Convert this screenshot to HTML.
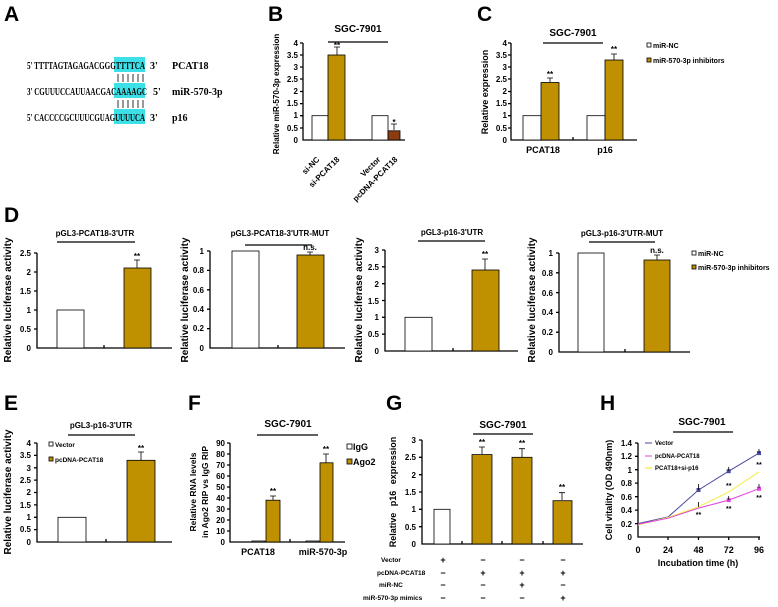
<!DOCTYPE html>
<html><head><meta charset="utf-8"><style>
body{margin:0;background:#fff}
svg{display:block;font-family:"Liberation Sans",Arial,sans-serif;font-weight:bold}
.L{font-size:21px}
.t{font-size:8px;text-anchor:end}
.ti{font-size:9px;text-anchor:middle}
.s{font-family:"Liberation Serif",serif;font-size:10px}
.ax{stroke:#000;stroke-width:1.3;fill:none}
.w{fill:#fff;stroke:#000;stroke-width:0.8}
.g{fill:#bf9000;stroke:#000;stroke-width:0.8}
.e{stroke:#000;stroke-width:0.8;fill:none}
.yl{font-size:8.5px;text-anchor:middle}
.st{font-size:8px;text-anchor:middle}
</style></head><body>
<svg width="778" height="607" viewBox="0 0 778 607">
<text class="L" x="4" y="21">A</text>
<text class="L" x="268" y="21">B</text>
<text class="L" x="477" y="21">C</text>
<text class="L" x="4" y="222">D</text>
<text class="L" x="4" y="410">E</text>
<text class="L" x="188" y="410">F</text>
<text class="L" x="386" y="410">G</text>
<text class="L" x="600" y="410">H</text>

<!-- Panel A -->
<rect x="114" y="57" width="31" height="15" fill="#3ee0e8"/>
<rect x="114" y="83" width="31" height="15" fill="#3ee0e8"/>
<rect x="114" y="109" width="31" height="15" fill="#3ee0e8"/>
<g class="e"><path d="M118 74V82M123 74V82M128 74V82M133 74V82M138 74V82M143 74V82M118 100V108M123 100V108M128 100V108M133 100V108M138 100V108M143 100V108"/></g>
<text class="s" x="27" y="69" textLength="118" lengthAdjust="spacingAndGlyphs">5' TTTTAGTAGAGACGGGTTTTCA</text>
<text class="s" x="150" y="69">3'</text><text class="s" x="172" y="69">PCAT18</text>
<text class="s" x="27" y="95" textLength="120" lengthAdjust="spacingAndGlyphs">3' CGUUUCCAUUAACGACAAAAGC</text>
<text class="s" x="153" y="95">5'</text><text class="s" x="172" y="95">miR-570-3p</text>
<text class="s" x="27" y="121" textLength="118" lengthAdjust="spacingAndGlyphs">5' CACCCCGCUUUCGUAGUUUUCA</text>
<text class="s" x="150" y="121">3'</text><text class="s" x="172" y="121">p16</text>

<!-- Panel B -->
<text class="ti" x="358" y="32" style="font-size:10px">SGC-7901</text>
<path class="ax" d="M328 42H388"/>
<path class="ax" d="M303 43V140H405M300 43H303M300 55H303M300 67H303M300 79H303M300 91.5H303M300 103.6H303M300 115.7H303M300 128H303"/>
<g class="t"><text x="298" y="46">4</text><text x="298" y="58">3.5</text><text x="298" y="70">3</text><text x="298" y="82">2.5</text><text x="298" y="94">2</text><text x="298" y="106">1.5</text><text x="298" y="118">1</text><text x="298" y="131">0.5</text><text x="298" y="143">0</text></g>
<text class="yl" transform="translate(279,94) rotate(-90)" style="font-size:8px">Relative miR-570-3p expression</text>
<rect class="w" x="312" y="115.7" width="16" height="24.3"/>
<rect class="g" x="328" y="55" width="17" height="85"/>
<rect class="w" x="372" y="115.7" width="16" height="24.3"/>
<rect x="388" y="130.8" width="12" height="9.2" fill="#8b3c12" stroke="#000" stroke-width="0.8"/>
<path class="e" d="M337 55V47M334 47H340M394 130V124M391 124H397"/>
<text class="st" x="337" y="48">**</text><text class="st" x="394" y="125">*</text>
<g style="font-size:8px"><text transform="translate(320,160) rotate(-45)" text-anchor="end">si-NC</text>
<text transform="translate(340,160) rotate(-45)" text-anchor="end">si-PCAT18</text>
<text transform="translate(381,160) rotate(-45)" text-anchor="end">Vector</text>
<text transform="translate(398,160) rotate(-45)" text-anchor="end">pcDNA-PCAT18</text></g>

<!-- Panel C -->
<text class="ti" x="573" y="36" style="font-size:10px">SGC-7901</text>
<path class="ax" d="M543 43H603"/>
<path class="ax" d="M511 43V140H637M508 43H511M508 55H511M508 67H511M508 79H511M508 91.5H511M508 103.6H511M508 115.7H511M508 128H511M573 140V137"/>
<g class="t"><text x="507" y="46">4</text><text x="507" y="58">3.5</text><text x="507" y="70">3</text><text x="507" y="82">2.5</text><text x="507" y="94">2</text><text x="507" y="106">1.5</text><text x="507" y="118">1</text><text x="507" y="131">0.5</text><text x="507" y="143">0</text></g>
<text class="yl" transform="translate(488,92) rotate(-90)" style="font-size:9px">Relative expression</text>
<rect class="w" x="523" y="115.7" width="18" height="24.3"/>
<rect class="g" x="541" y="82.5" width="18" height="57.5"/>
<rect class="w" x="587" y="115.7" width="18" height="24.3"/>
<rect class="g" x="605" y="60" width="18" height="80"/>
<path class="e" d="M550 82V78M547 78H553M614 60V54M611 54H617"/>
<text class="st" x="550" y="77">**</text><text class="st" x="614" y="52">**</text>
<text class="ti" x="543" y="153">PCAT18</text><text class="ti" x="605" y="153">p16</text>
<rect class="w" x="647" y="43" width="4" height="4"/><text x="653" y="48" style="font-size:7px">miR-NC</text>
<rect class="g" x="647" y="58" width="4" height="4"/><text x="653" y="63" style="font-size:7px">miR-570-3p inhibitors</text>

<!-- D1 -->
<text class="ti" x="95" y="236" style="font-size:8px">pGL3-PCAT18-3'UTR</text>
<path class="ax" d="M57 242H135"/>
<path class="ax" d="M37 253V348H172M34 253H37M34 272H37M34 291H37M34 310H37M34 329H37M104 348V345"/>
<g class="t"><text x="31" y="256">2.5</text><text x="31" y="275">2</text><text x="31" y="294">1.5</text><text x="31" y="313">1</text><text x="31" y="332">0.5</text><text x="31" y="351">0</text></g>
<text class="yl" transform="translate(11,300) rotate(-90)" style="font-size:10px">Relative luciferase activity</text>
<rect class="w" x="57" y="310" width="27" height="38"/>
<rect class="g" x="124" y="268" width="27" height="80"/>
<path class="e" d="M137 268V260M134 260H140"/><text class="st" x="137" y="259">**</text>

<!-- D2 -->
<text class="ti" x="280" y="236" style="font-size:8px">pGL3-PCAT18-3'UTR-MUT</text>
<path class="ax" d="M245 245H312"/>
<path class="ax" d="M210 251V348H345M207 251H210M207 270.4H210M207 289.8H210M207 309.2H210M207 328.6H210M278 348V345"/>
<g class="t"><text x="204" y="254">1</text><text x="204" y="273">0.8</text><text x="204" y="293">0.6</text><text x="204" y="312">0.4</text><text x="204" y="331">0.2</text><text x="204" y="351">0</text></g>
<text class="yl" transform="translate(188,300) rotate(-90)" style="font-size:10px">Relative luciferase activity</text>
<rect class="w" x="232" y="251" width="27" height="97"/>
<rect class="g" x="297" y="255" width="27" height="93"/>
<path class="e" d="M310 255V252M307 252H313"/><text class="st" x="310" y="250">n.s.</text>

<!-- D3 -->
<text class="ti" x="452" y="235" style="font-size:8px">pGL3-p16-3'UTR</text>
<path class="ax" d="M418 241H485"/>
<path class="ax" d="M385 250V351H518M382 250H385M382 266.8H385M382 283.7H385M382 300.5H385M382 317.3H385M382 334.2H385M453 351V348"/>
<g class="t"><text x="379" y="253">3</text><text x="379" y="270">2.5</text><text x="379" y="287">2</text><text x="379" y="304">1.5</text><text x="379" y="320">1</text><text x="379" y="337">0.5</text><text x="379" y="354">0</text></g>
<text class="yl" transform="translate(362,300) rotate(-90)" style="font-size:10px">Relative luciferase activity</text>
<rect class="w" x="405" y="317.3" width="27" height="33.7"/>
<rect class="g" x="472" y="270" width="27" height="81"/>
<path class="e" d="M485 270V259M482 259H488"/><text class="st" x="485" y="257">**</text>

<!-- D4 -->
<text class="ti" x="622" y="236" style="font-size:8px">pGL3-p16-3'UTR-MUT</text>
<path class="ax" d="M589 242H655"/>
<path class="ax" d="M559 253V352H690M556 253H559M556 272.8H559M556 292.6H559M556 312.4H559M556 332.2H559M625 352V349"/>
<g class="t"><text x="553" y="256">1</text><text x="553" y="276">0.8</text><text x="553" y="296">0.6</text><text x="553" y="315">0.4</text><text x="553" y="335">0.2</text><text x="553" y="355">0</text></g>
<text class="yl" transform="translate(535,300) rotate(-90)" style="font-size:10px">Relative luciferase activity</text>
<rect class="w" x="578" y="253" width="26" height="99"/>
<rect class="g" x="644" y="260" width="26" height="92"/>
<path class="e" d="M657 260V255M654 255H660"/><text class="st" x="657" y="253">n.s.</text>
<rect class="w" x="692" y="251" width="4" height="4"/><text x="698" y="256" style="font-size:7px">miR-NC</text>
<rect class="g" x="692" y="265" width="4" height="4"/><text x="698" y="270" style="font-size:7px">miR-570-3p inhibitors</text>

<!-- E -->
<text class="ti" x="101" y="428" style="font-size:8px">pGL3-p16-3'UTR</text>
<path class="ax" d="M68 435H135"/>
<path class="ax" d="M37 443V542H172M34 443H37M34 455.4H37M34 467.8H37M34 480.1H37M34 492.5H37M34 504.9H37M34 517.3H37M34 529.6H37M106 542V539"/>
<g class="t"><text x="31" y="446">4</text><text x="31" y="458">3.5</text><text x="31" y="471">3</text><text x="31" y="483">2.5</text><text x="31" y="495">2</text><text x="31" y="508">1.5</text><text x="31" y="520">1</text><text x="31" y="532">0.5</text><text x="31" y="545">0</text></g>
<text class="yl" transform="translate(11,492) rotate(-90)" style="font-size:10px">Relative luciferase activity</text>
<rect class="w" x="58" y="517.3" width="28" height="24.7"/>
<rect class="g" x="127" y="460.3" width="28" height="81.7"/>
<path class="e" d="M141 460V452M138 452H144"/><text class="st" x="141" y="451">**</text>
<rect class="w" x="49" y="442" width="4" height="4"/><text x="55" y="447" style="font-size:6.5px">Vector</text>
<rect class="g" x="49" y="457" width="4" height="4"/><text x="55" y="462" style="font-size:6.5px">pcDNA-PCAT18</text>

<!-- F -->
<text class="ti" x="288" y="427" style="font-size:10px">SGC-7901</text>
<path class="ax" d="M257 435H318"/>
<path class="ax" d="M230 443V542H345M227 443H230M227 454H230M227 465H230M227 476H230M227 487H230M227 498H230M227 509H230M227 520H230M227 531H230M290 542V539"/>
<g class="t"><text x="225" y="446">90</text><text x="225" y="457">80</text><text x="225" y="468">70</text><text x="225" y="479">60</text><text x="225" y="490">50</text><text x="225" y="501">40</text><text x="225" y="512">30</text><text x="225" y="523">20</text><text x="225" y="534">10</text><text x="225" y="545">0</text></g>
<text class="yl" transform="translate(196,492) rotate(-90)">Relative RNA levels</text>
<text class="yl" transform="translate(208,492) rotate(-90)">in Ago2 RIP vs IgG RIP</text>
<rect class="w" x="252" y="541" width="13" height="1"/>
<rect class="g" x="266" y="500.2" width="14" height="41.8"/>
<rect class="w" x="306" y="541" width="13" height="1"/>
<rect class="g" x="320" y="462.8" width="13" height="79.2"/>
<path class="e" d="M273 500V496M270 496H276M326 463V454M323 454H329"/>
<text class="st" x="273" y="494">**</text><text class="st" x="326" y="452">**</text>
<text class="ti" x="258" y="555">PCAT18</text><text class="ti" x="323" y="555">miR-570-3p</text>
<rect class="w" x="347" y="444" width="5" height="5"/><text x="353" y="450" style="font-size:9px">IgG</text>
<rect class="g" x="347" y="459" width="5" height="5"/><text x="353" y="465" style="font-size:9px">Ago2</text>

<!-- G -->
<text class="ti" x="503" y="428" style="font-size:10px">SGC-7901</text>
<path class="ax" d="M473 434H533"/>
<path class="ax" d="M422 440V544H583M419 440H422M419 457.3H422M419 474.7H422M419 492H422M419 509.3H422M419 526.7H422M462 544V541M502 544V541M543 544V541"/>
<g class="t"><text x="416" y="443">3</text><text x="416" y="460">2.5</text><text x="416" y="478">2</text><text x="416" y="495">1.5</text><text x="416" y="512">1</text><text x="416" y="530">0.5</text><text x="416" y="547">0</text></g>
<text class="yl" transform="translate(396,492) rotate(-90)" style="font-size:9px;word-spacing:4px">Relative p16 expression</text>
<rect class="w" x="434" y="509.3" width="16" height="34.7"/>
<rect class="g" x="472" y="454.6" width="20" height="89.4"/>
<rect class="g" x="512" y="457.3" width="20" height="86.7"/>
<rect class="g" x="553" y="500.7" width="19" height="43.3"/>
<path class="e" d="M482 454V447M479 447H485M522 457V448.7M519 448.7H525M562 500V492.7M559 492.7H565"/>
<text class="st" x="482" y="445">**</text><text class="st" x="522" y="446">**</text><text class="st" x="562" y="490">**</text>
<g style="font-size:6.5px"><text x="381" y="562">Vector</text><text x="377" y="575">pcDNA-PCAT18</text><text x="379" y="587">miR-NC</text><text x="363" y="600">miR-570-3p mimics</text></g>
<g style="font-size:9px" text-anchor="middle"><text x="443" y="563">+</text><text x="483" y="563">−</text><text x="522" y="563">−</text><text x="563" y="563">−</text>
<text x="443" y="576">−</text><text x="483" y="576">+</text><text x="522" y="576">+</text><text x="563" y="576">+</text>
<text x="443" y="588">−</text><text x="483" y="588">−</text><text x="522" y="588">+</text><text x="563" y="588">−</text>
<text x="443" y="601">−</text><text x="483" y="601">−</text><text x="522" y="601">−</text><text x="563" y="601">+</text></g>

<!-- H -->
<text class="ti" x="702" y="425" style="font-size:10px">SGC-7901</text>
<path class="ax" d="M673 432H733"/>
<path class="ax" d="M638 443V537H760M635 443H638M635 456.3H638M635 469.7H638M635 483.1H638M635 496.7H638M635 510.1H638M635 523.6H638M668 537V540M698.5 537V540M728.7 537V540M759 537V540"/>
<g class="t"><text x="632" y="446">1.4</text><text x="632" y="459">1.2</text><text x="632" y="473">1</text><text x="632" y="486">0.8</text><text x="632" y="500">0.6</text><text x="632" y="513">0.4</text><text x="632" y="527">0.2</text><text x="632" y="540">0</text></g>
<text class="yl" transform="translate(612,490) rotate(-90)" style="font-size:9px">Cell vitality (OD 490nm)</text>
<g class="ti"><text x="638" y="553">0</text><text x="668" y="553">24</text><text x="698.5" y="553">48</text><text x="728.7" y="553">72</text><text x="759" y="553">96</text></g>
<text class="ti" x="698" y="566">Incubation time (h)</text>
<polyline points="638,523.6 668.2,516.9 698.5,490 728.7,471.2 759,453.1" fill="none" stroke="#4a4aa0" stroke-width="1"/>
<polyline points="638,524.9 668.2,517.5 698.5,506.8 728.7,492 759,471.9" fill="none" stroke="#f4f05a" stroke-width="1.2"/>
<polyline points="638,524.2 668.2,518.2 698.5,508.1 728.7,500.1 759,488.7" fill="none" stroke="#e040e0" stroke-width="1"/>
<g fill="#4a4aa0"><rect x="696.5" y="488" width="4" height="4"/><rect x="726.7" y="469.2" width="4" height="4"/><rect x="757" y="451.1" width="4" height="4"/></g>
<g fill="#e040e0"><rect x="726.7" y="498.1" width="4" height="4"/><rect x="757" y="486.7" width="4" height="4"/></g>
<path class="e" d="M698.5 490V484M728.7 471V467M759 453V449M728.7 500V496M759 488V484M698.5 507V502"/>
<g class="st" style="font-size:7px"><text x="698.5" y="517">**</text><text x="728.7" y="488">**</text><text x="728.7" y="511">**</text><text x="759" y="467">**</text><text x="759" y="500">**</text></g>
<g style="font-size:6px"><path d="M645 443H652" stroke="#4a4aa0"/><text x="655" y="445">Vector</text>
<path d="M645 456H652" stroke="#e040e0"/><text x="655" y="458">pcDNA-PCAT18</text>
<path d="M645 468H652" stroke="#f4f05a" stroke-width="1.5"/><text x="655" y="470">PCAT18+si-p16</text></g>
</svg>
</body></html>
